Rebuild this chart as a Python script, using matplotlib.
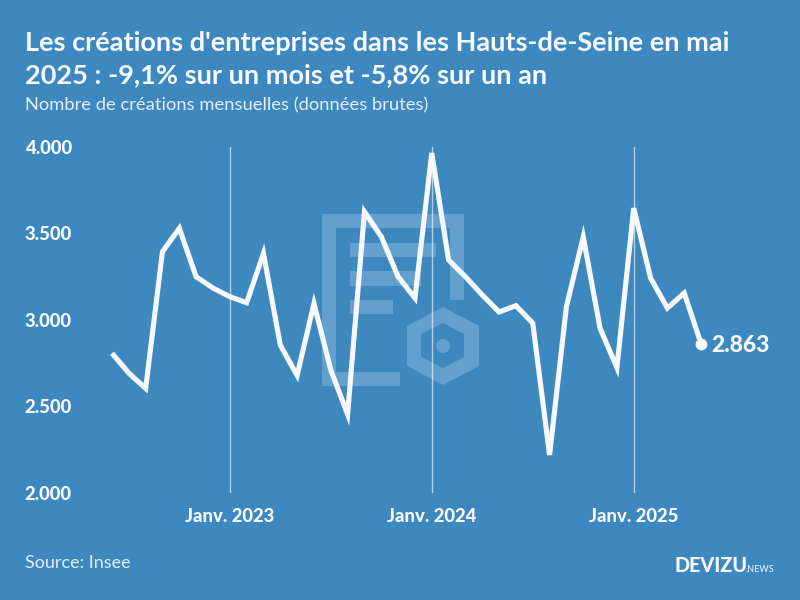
#!/usr/bin/env python3
# -*- coding: utf-8 -*-
import matplotlib
matplotlib.use('Agg')
import matplotlib.pyplot as plt
from matplotlib.patches import Rectangle, Polygon, Circle

plt.rcParams['font.family'] = ['Lato', 'DejaVu Sans']

### DATA ######################################################################
# months since June 2022
months = list(range(36))
creations = [2808, 2693, 2605, 3395, 3530, 3250, 3185, 3135, 3100, 3385, 2855, 2680,
             3095, 2711, 2455, 3626, 3482, 3250, 3127, 3965, 3347, 3250, 3145, 3046,
             3083, 2982, 2220, 3077, 3480, 2952, 2725, 3647, 3243, 3069, 3156, 2863]
jan_pos = [7, 19, 31]
jan_labels = ['Janv. 2023', 'Janv. 2024', 'Janv. 2025']
y_ticks = [2000, 2500, 3000, 3500, 4000]
y_labels = ['2.000', '2.500', '3.000', '3.500', '4.000']

title = "Les créations d'entreprises dans les Hauts-de-Seine en mai\n2025 : -9,1% sur un mois et -5,8% sur un an"
subtitle = 'Nombre de créations mensuelles (données brutes)'
source = 'Source: Insee'

### SETTINGS ##################################################################
bg = '#3d88bf'
wm = '#64a0cd'
white = '#f8f8ff'

fig = plt.figure(figsize=(8, 6), dpi=100, facecolor=bg)

# pixel canvas for the watermark and the texts around the chart
back = fig.add_axes([0, 0, 1, 1], zorder=0)
back.set_xlim(0, 800)
back.set_ylim(600, 0)
back.axis('off')

for x, y, w, h in [(322, 214, 142, 14), (322, 214, 14, 172), (450, 214, 14, 86),
                   (322, 372, 78, 14), (350, 243, 86, 14), (350, 271, 71, 15),
                   (350, 300, 43, 14)]:
    back.add_patch(Rectangle((x, y), w, h, fc=wm, ec='none'))
back.add_patch(Polygon([(443, 307), (479, 326), (479, 366), (443, 385), (407, 366), (407, 326)],
                       fc=wm, ec='none'))
back.add_patch(Polygon([(443, 323), (464, 334), (464, 357), (443, 368), (421, 357), (421, 334)],
                       fc=bg, ec='none'))
back.add_patch(Circle((443, 346), 7, fc=wm, ec='none'))

back.text(25, 59, title, color=white, fontsize=19.5, fontweight='bold', va='center',
          linespacing=1.38)
back.text(25, 105, subtitle, color=white, fontsize=13.2, alpha=0.9, va='center')
back.text(25, 563, source, color=white, fontsize=13, alpha=0.9, va='center')
back.text(674, 566, 'DEVIZU', color=white, fontsize=14.2, fontweight='black', va='center')
back.text(746, 569.5, '.NEWS', color=white, fontsize=6.5, fontweight='normal', va='center')

### PLOT ######################################################################
# axes from x=90 to x=780, y=147 to y=493 (pixels)
ax = fig.add_axes([90/800, 107/600, 690/800, 346/600], zorder=1)
ax.patch.set_alpha(0)
ax.set_xlim((90-112)/16.83, (780-112)/16.83)
ax.set_ylim(2000, 4000)
for s in ax.spines.values():
    s.set_visible(False)

for pos in jan_pos:
    ax.axvline(pos, color='white', alpha=0.6, linewidth=1.0, zorder=1)

ax.plot(months, creations, color=white, linewidth=3.7, solid_joinstyle='miter',
        solid_capstyle='butt', clip_on=False, zorder=3)
ax.plot(months[-1], creations[-1], 'o', color=white, markersize=7.5, clip_on=False, zorder=4)
ax.annotate('2.863', (months[-1], creations[-1]), xytext=(7.5, -1), textcoords='offset points',
            color=white, fontsize=16.5, fontweight='black', va='center')

ax.set_xticks(jan_pos)
ax.set_xticklabels(jan_labels, color=white, fontsize=13.3, fontweight='black')
ax.set_yticks(y_ticks)
ax.set_yticklabels(y_labels, color=white, fontsize=13.3, fontweight='black')
ax.tick_params(axis='both', length=0)
ax.tick_params(axis='x', pad=11)
ax.tick_params(axis='y', pad=47)
for lab in ax.get_yticklabels():
    lab.set_horizontalalignment('left')

plt.savefig('out.png', dpi=100, facecolor=bg)
